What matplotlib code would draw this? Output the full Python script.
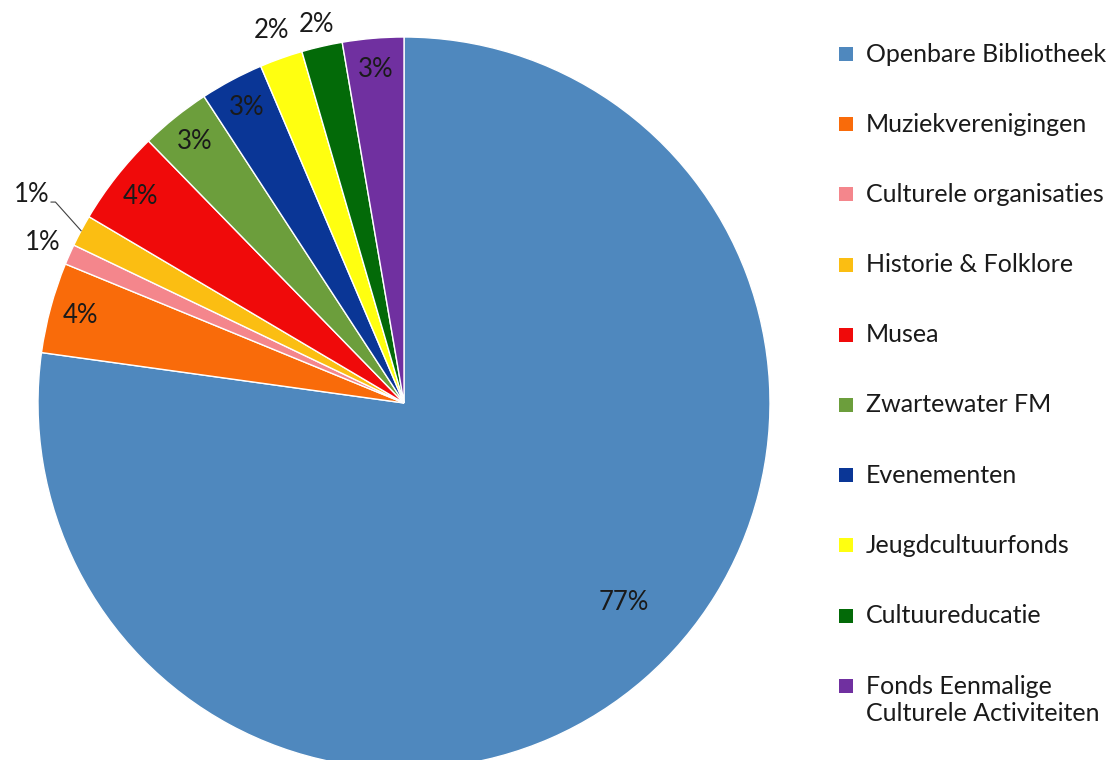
import numpy as np
import matplotlib.pyplot as plt

plt.rcParams['font.family'] = ['Lato', 'DejaVu Sans']

categories = [
    'Openbare Bibliotheek',
    'Muziekverenigingen',
    'Culturele organisaties',
    'Historie & Folklore',
    'Musea',
    'Zwartewater FM',
    'Evenementen',
    'Jeugdcultuurfonds',
    'Cultuureducatie',
    'Fonds Eenmalige\nCulturele Activiteiten',
]
shares = [77.2, 4.0, 0.9, 1.4, 4.2, 3.1, 2.8, 1.9, 1.8, 2.7]
colors = ['#4F88BE', '#F96B0A', '#F4868C', '#FBBE12', '#F00A0A',
          '#6C9E3C', '#0A3696', '#FFFF10', '#036A08', '#7030A0']

# labels placed outside the pie, the Historie one gets a leader line
outside = {2: 1.08, 7: 1.08, 8: 1.06}
leader_idx = 3

fig = plt.figure(figsize=(11.11, 7.6), dpi=100)
ax = fig.add_axes([38 / 1111, -9 / 760, 732 / 1111, 732 / 760])

wedges, _, pcts = ax.pie(
    shares, colors=colors, startangle=90, counterclock=False,
    autopct='%.0f%%', pctdistance=0.915,
    wedgeprops=dict(edgecolor='white', linewidth=1.0),
    textprops=dict(fontsize=18.5, color='#1a1a1a'),
)
ax.set_xlim(-1, 1)
ax.set_ylim(-1, 1)
ax.axis('off')

for i, w in enumerate(wedges):
    mid = np.deg2rad((w.theta1 + w.theta2) / 2)
    t = pcts[i]
    t.set_clip_on(False)
    if i == 0:
        a = mid + np.deg2rad(6.7)
        t.set_position((0.81 * np.cos(a), 0.81 * np.sin(a)))
    if i in outside:
        r = outside[i]
        t.set_position((r * np.cos(mid), r * np.sin(mid)))
    if i == leader_idx:
        rim = (np.cos(mid), np.sin(mid))
        elbow = (1.105 * np.cos(mid + np.deg2rad(-2.4)), 0.549)
        end = (elbow[0] - 0.012, elbow[1])
        ax.plot([rim[0], elbow[0], end[0]], [rim[1], elbow[1], end[1]],
                color='#404040', lw=0.8, clip_on=False)
        t.set_position((end[0] - 0.003, end[1] + 0.022))
        t.set_ha('right')

# legend drawn in its own axes
lax = fig.add_axes([0, 0, 1, 1], facecolor='none')
lax.set_xlim(0, 1111)
lax.set_ylim(760, 0)
lax.axis('off')
y0, step = 54, 70.2
for i, (lab, c) in enumerate(zip(categories, colors)):
    y = y0 + i * step
    lax.scatter([846], [y], marker='s', s=100, color=c, linewidths=0)
    if '\n' in lab:
        lax.text(866, y - 11, lab, fontsize=18, va='top', ha='left',
                 color='#1a1a1a', linespacing=1.2)
    else:
        lax.text(866, y, lab, fontsize=18, va='center', ha='left',
                 color='#1a1a1a')

fig.savefig('out.png', dpi=100)
